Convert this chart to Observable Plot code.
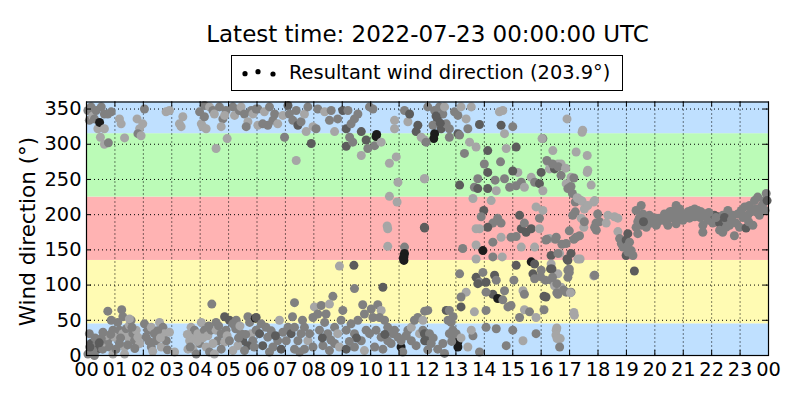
<!DOCTYPE html>
<html><head><meta charset="utf-8">
<script src="https://cdn.jsdelivr.net/npm/d3@7"></script>
<script src="https://cdn.jsdelivr.net/npm/@observablehq/plot@0.6"></script>
<style>
body{margin:0;background:#fff;font-family:"DejaVu Sans",sans-serif;color:#000;}
#wrap{position:relative;width:800px;height:400px;overflow:hidden;}
#title{position:absolute;left:0;width:855px;top:22.5px;text-align:center;font-size:23px;line-height:23px;white-space:nowrap;}
#legend{position:absolute;left:231px;top:55px;width:390px;height:34px;border:1px solid #000;display:flex;align-items:center;font-size:19.4px;white-space:nowrap;}
#legend svg{margin-left:8px;margin-right:11px;}
#legend span{position:relative;top:-1px;}
#chart{position:absolute;left:0;top:95px;}
</style></head>
<body><div id="wrap">
<div id="title"></div>
<div id="legend"></div>
<div id="chart"></div>
</div>
<script>
const titleText = "Latest time: 2022-07-23 00:00:00 UTC";
const legendText = "Resultant wind direction (203.9°)";
const yLabel = "Wind direction (°)";
const hourTicks = [0,1,2,3,4,5,6,7,8,9,10,11,12,13,14,15,16,17,18,19,20,21,22,23,24];
const degTicks = [0,50,100,150,200,250,300,350];
const bandLo = [0,45,135,225,315];
const bandHi = [45,135,225,315,360];
const bandColors = ["#bfe0ff","#fffbb3","#ffb3b3","#bbfbb7","#bfe0ff"];
const shadeColors = ["#a6a6a6","#808080","#5c5c5c","#1c1c1c"];

// [hour, direction (deg), shade]
const night = [
[0.05,348,1],[0.1,334,1],[0.16,353,1],[0.22,340,0],[0.28,336,1],[0.34,348,1],[0.4,322,0],[0.46,331,3],[0.52,353,1],[0.63,343,1],[0.63,322,0],[0.75,343,1],[0.87,346,1],[0.49,310,0],[0.63,300,0],[0.77,302,1],
[1.16,336,0],[1.22,329,0],[1.34,309,0],[1.78,336,0],[1.87,322,0],[1.81,315,1],[1.98,329,0],[2.04,350,1],[1.92,312,0],
[2.8,346,0],[2.92,348,0],[3.27,329,0],[3.33,325,0],[3.39,339,0],[3.98,346,1],[4.04,329,0],[4.09,325,0],
[4.15,355,1],[4.33,353,0],[4.45,348,1],[4.56,294,0],[4.15,339,1],[4.21,322,0],[4.5,343,0],[4.68,353,1],[4.8,336,1],[4.74,325,0],[4.95,308,0],[4.91,348,1],[4.86,341,0],
[5.15,353,1],[5.21,341,0],[5.38,348,1],[5.44,353,0],[5.56,343,1],[5.68,332,0],[5.62,325,1],[5.8,348,1],[5.86,343,0],[5.97,350,1],
[0.1,31,1],[0.16,17,2],[0.34,14,1],[0.4,9,2],[0.22,7,1],[0.57,9,1],[0.63,19,0],[0.75,21,1],[0.75,63,1],[0.87,50,1],[0.93,36,1],[0.99,26,0],[0.69,28,0],[0.52,24,1],[0.05,2,1],[0.28,0,1],[0.81,12,1],[0.93,2,0],
[0.3,25,1],[0.45,18,2],[0.58,33,1],[0.12,12,2],[0.85,30,1],
[1.24,65,1],[1.28,55,1],[1.1,47,1],[1.16,36,1],[1.28,31,0],[1.4,38,1],[1.51,43,0],[1.57,50,1],[1.46,26,0],[1.63,31,1],[1.75,36,0],[1.69,21,1],[1.34,12,0],[1.16,17,1],[1.81,26,0],[1.51,52,0],[1.04,9,1],[1.87,17,0],[1.34,2,0],
[1.2,25,1],[1.45,15,1],[1.6,40,1],[1.7,10,1],
[2.04,45,1],[2.16,36,1],[2.28,40,0],[2.39,31,1],[2.57,47,0],[2.69,40,1],[2.74,31,0],[2.45,21,1],[2.28,12,1],[2.63,12,0],[2.81,21,1],[2.1,26,1],[2.33,6,0],[2.92,33,0],
[2.2,20,1],[2.5,35,1],[2.6,25,0],[2.85,8,1],
[3.1,5,0],[3.68,40,0],[3.74,26,0],[3.8,36,1],[3.92,31,0],[3.63,21,0],[3.98,17,1],[3.74,9,0],[3.86,2,1],[3.57,9,0],
[3.55,30,0],[3.65,12,1],[3.9,20,0],
[4.41,73,1],[4.04,47,0],[4.15,36,1],[4.27,28,0],[4.39,36,1],[4.56,47,1],[4.56,36,0],[4.62,21,1],[4.45,17,0],[4.21,12,0],[4.33,5,1],[4.74,31,1],[4.86,55,2],[4.91,36,1],[4.86,19,0],[4.74,9,1],[4.5,2,0],
[4.1,25,0],[4.3,42,1],[4.65,42,1],[4.95,28,0],
[5.03,50,2],[5.15,45,1],[5.27,50,1],[5.44,31,1],[5.5,21,2],[5.33,14,0],[5.68,55,1],[5.74,47,1],[5.94,53,3],[5.8,31,0],[5.85,21,1],[5.68,14,2],[5.56,7,1],[5.97,36,1],[5.15,7,0],[5.03,21,1],
[5.25,38,1],[5.4,42,0],[5.6,30,1],[5.9,12,1],[5.35,25,1]
];

const morning = [
[6.03,350,1],[6.26,346,0],[6.44,353,1],[6.62,343,1],[6.56,334,1],[6.38,327,1],[6.73,329,0],[6.91,341,0],[6.97,310,1],[6.03,327,0],[6.2,329,1],
[7.09,355,2],[7.14,343,1],[7.26,334,1],[7.38,348,1],[7.44,327,2],[7.55,332,1],[7.67,343,0],[7.73,318,0],[7.79,353,1],[7.97,325,0],[7.91,301,2],[8.08,322,1],[7.38,277,0],
[8.14,350,1],[8.38,346,0],[8.61,348,1],[8.55,334,1],[8.73,318,0],[8.84,336,1],[9.14,322,2],[9.14,297,2],[9.26,310,1],[9.31,329,1],[9.43,336,1],[9.55,343,1],[9.67,318,2],[9.37,303,1],
[9.02,348,2],[9.2,348,1],[9.67,284,0],[9.84,306,2],[9.9,294,1],[9.96,353,1],[10.08,350,1],[10.14,298,1],[10.19,311,3],[10.21,314,3],[10.37,303,0],
[10.66,273,0],[10.9,282,0],[10.84,334,0],[10.84,322,0],[11.19,348,1],[11.31,332,0],[11.37,343,2],[11.6,318,2],[11.66,327,2],[11.78,310,0],[11.9,306,0],[11.9,251,0],[10.96,246,0],
[10.66,226,0],[10.93,218,0],[10.58,184,0],[10.6,180,0],[10.6,155,0],[11.19,154,1],[11.17,140,3],[11.17,135,3],[11.19,145,3],[11.15,138,3],[11.9,181,2],
[8.9,127,0],[9.41,128,2],[9.43,95,1],[10.43,97,2],[7.32,75,1],[8.67,84,1],[11.9,63,1],
[5.97,54,2],[6.15,45,1],[6.32,40,1],[6.09,31,2],[6.38,26,1],[6.2,14,2],[6.56,12,1],[6.73,21,1],[6.79,50,0],[6.91,33,1],[6.85,9,2],[6.44,5,1],[7.03,21,1],[6.5,35,1],[6.65,28,2],
[7.09,40,1],[7.2,31,2],[7.32,40,1],[7.44,21,1],[7.55,31,1],[7.67,40,1],[7.67,9,1],[7.79,21,0],[7.85,31,1],[7.97,54,1],[8.02,69,0],[7.32,9,1],[7.5,5,1],[7.97,12,1],[7.6,50,1],[7.25,55,1],
[8.14,59,1],[8.26,71,1],[8.43,59,1],[8.55,73,0],[8.38,47,1],[8.2,36,1],[8.49,31,1],[8.73,40,1],[8.84,31,0],[8.73,17,1],[8.32,14,1],[8.55,7,1],[8.96,50,1],[8.9,12,0],[9.02,64,1],[8.6,22,1],[8.3,25,2],
[9.14,36,1],[9.31,45,1],[9.43,31,1],[9.55,50,1],[9.72,72,1],[9.78,59,1],[9.67,21,1],[9.84,36,1],[9.96,31,1],[9.43,12,1],[9.14,9,2],[9.78,7,0],[10.02,66,1],[10.08,54,1],[9.5,25,2],[9.25,20,1],
[10.25,72,1],[10.37,64,0],[10.31,54,1],[10.49,50,1],[10.6,40,1],[10.19,36,1],[10.37,26,1],[10.6,21,1],[10.78,31,1],[10.84,36,1],[10.14,12,1],[10.43,9,1],[10.72,17,1],[10.96,26,1],[10.5,30,2],
[11.07,12,3],[11.13,5,1],[11.31,36,1],[11.43,40,0],[11.54,50,1],[11.66,54,1],[11.72,31,0],[11.84,36,1],[11.84,50,0],[11.43,21,1],[11.07,21,1],[11.6,14,1],[11.9,21,2],[11.25,28,1]
];

const afternoon = [
[12.01,353,1],[12.25,348,1],[12.42,353,1],[12.54,343,1],[12.36,334,2],[12.19,327,1],[12.48,322,2],[12.66,329,1],[12.77,322,1],[12.6,353,0],[12.25,315,3],[12.22,308,3],[11.95,303,1],[12.77,310,1],[12.3,340,2],[12.45,330,2],
[12.95,346,1],[13.07,341,1],[13.18,353,0],[13.36,336,0],[13.42,322,1],[13.54,353,0],[13.07,315,2],[13.13,313,1],[13.48,303,0],[13.71,296,0],[13.83,328,2],[13.3,287,1],
[14.12,291,2],[14.0,272,1],[14.57,275,1],[14.59,327,2],[14.71,315,0],[14.12,260,2],[14.77,294,0],[15.0,325,1],[15.12,296,2],[14.53,346,0],[14.65,348,0],[16.06,308,1],[17.46,320,0],[16.91,336,0],[17.44,317,0],[16.03,308,0],
[14.38,249,1],[14.71,251,1],[14.89,239,1],[15.12,241,1],[15.18,260,0],[15.0,262,2],[15.3,246,1],[15.41,239,0],[15.65,253,0],[15.77,246,1],[15.94,244,2],[16.0,260,2],[16.06,234,0],[16.23,275,0],[16.41,291,0],[16.29,265,0],[16.47,265,2],[16.59,272,0],[16.7,272,0],[16.7,256,1],[16.88,244,0],[16.94,237,1],[17.05,253,0],[17.23,289,0],[17.62,284,0],[17.64,263,0],[17.76,242,0],
[13.65,239,1],[13.77,237,2],[14.12,237,2],[14.42,234,0],[13.77,251,1],[13.13,242,2],[11.89,251,0],
[16.2,277,1],[16.4,272,1],[16.6,268,1],[16.86,266,0],[17.15,252,1],[17.62,260,0],[17.05,240,1],[17.1,230,1],[17.2,218,1],[17.27,224,0],[17.44,219,0],[17.85,218,0],[17.2,204,1],[17.5,191,0],[17.5,182,0],
[11.89,182,2],[13.6,223,0],[14.24,220,0],[13.98,206,2],[13.89,197,1],[14.3,188,1],[14.47,195,1],[14.59,188,1],[14.12,182,2],[13.83,180,0],[13.71,180,0],[14.59,168,0],[14.3,161,1],[13.71,157,0],[13.24,152,1],[13.95,149,3],[13.71,137,0],[14.3,140,1],[14.63,140,0],
[14.94,168,1],[15.12,169,1],[15.24,199,2],[15.3,180,2],[15.41,188,1],[15.47,175,2],[15.3,154,0],[15.65,180,2],[15.77,154,0],[15.94,195,1],[15.94,180,0],[15.82,211,0],[16.06,206,0],[16.17,164,1],[16.29,166,0],[16.53,168,1],[16.35,142,2],[16.65,145,0],[16.88,159,1],[17.05,145,2],[17.11,199,1],[17.23,168,1],[17.35,170,1],[17.41,195,0],[17.52,190,1],[17.52,208,0],[17.64,213,0],[17.29,223,0],[17.41,220,0],[17.93,188,1],[17.88,182,1],[16.99,177,1],[17.29,137,0],
[16.2,165,1],[16.5,165,1],[16.73,158,1],[17.15,165,1],[16.59,145,1],[16.91,137,2],[17.37,137,0],
[13.13,116,1],[13.71,111,2],[13.83,104,1],[13.77,102,2],[13.95,118,1],[14.06,104,2],[14.36,114,2],[14.42,107,1],[14.3,87,2],[14.47,81,3],[14.71,92,1],[14.65,79,1],[14.94,71,1],[15.04,107,1],[15.12,128,2],[15.36,92,0],[15.41,87,1],[15.71,116,2],[15.77,109,1],[15.65,133,3],[15.77,130,2],[16.0,121,1],
[14.06,90,1],[13.36,90,0],[13.18,83,1],[13.18,69,2],[13.65,62,0],[14.06,64,1],[14.83,69,1],[15.41,65,0],[15.59,62,1],[16.17,83,2],[16.35,107,1],[16.47,99,0],[16.59,87,1],[16.59,116,0],[16.7,97,0],[16.88,90,1],[16.94,121,1],[16.94,111,1],[17.05,90,1],[16.94,135,2],[17.88,114,0],[16.35,130,0],[15.98,112,1],[15.24,54,1],[15.82,54,0],[16.53,36,0],[17.17,57,0],
[16.33,123,2],[16.38,123,2],[16.99,123,1],[16.99,118,1],[16.15,107,1],[16.4,111,1],[16.55,102,1],[17.85,113,0],[16.79,93,1],[17.03,89,0],[16.1,84,2],[16.55,89,1],[16.1,65,1],[17.15,61,0],[16.55,39,0],[16.52,29,0],[16.67,24,0],
[12.01,64,1],[11.89,31,2],[12.07,31,1],[11.95,21,2],[12.13,17,1],[12.01,8,1],[12.36,9,1],[12.54,17,1],[12.66,64,2],[12.77,64,1],[12.72,50,1],[12.83,47,1],[12.89,36,1],[12.77,31,1],[12.95,24,1],[13.07,19,3],[13.07,12,3],[13.01,31,1],[13.18,25,0],[13.42,12,0],[13.6,28,1],[13.54,36,0],[12.6,3,1],[13.83,5,1],[14.06,40,1],[14.42,38,1],[14.77,14,1],[15.0,36,1],[15.36,21,0],[15.82,31,1],[16.56,24,0],[16.65,12,1],
[12.2,25,1],[12.85,20,1],[12.9,55,1]
];

const evening = [
[17.88,220,0],[17.99,201,1],[18.05,190,1],[17.94,178,1],[18.35,199,0],[18.58,197,0],[18.7,195,0],[18.29,188,0],[17.88,114,1],[19.28,120,2],
[18.7,176,0],[18.76,166,1],[18.82,159,1],[18.88,154,1],[18.99,164,2],[19.05,173,2],[19.11,161,1],[18.99,154,1],[19.17,149,1],[18.99,142,2],[19.23,142,1],[19.05,147,1],
[19.34,206,1],[19.52,213,1],[19.58,201,1],[19.4,190,1],[19.64,197,1],[19.75,190,1],[19.34,182,1],[19.52,185,1],[19.7,182,1],[19.4,173,1],[19.87,188,1],[19.81,199,1],[20.05,185,1],[20.16,195,1],[20.05,195,1],[19.45,195,1],[19.6,190,2],[19.9,196,1],
[20.22,192,1],[20.4,190,1],[20.34,201,1],[20.52,204,1],[20.63,195,1],[20.75,213,1],[20.75,201,1],[20.87,208,1],[20.93,199,1],[20.99,192,1],[20.75,187,1],[20.46,185,1],[20.1,190,1],[20.3,196,1],[20.45,199,1],[20.6,205,1],[20.85,196,1],
[21.16,204,1],[21.28,206,1],[21.4,208,1],[21.51,206,1],[21.63,204,1],[21.69,185,1],[21.69,175,1],[21.81,201,1],[21.87,192,1],[21.4,197,1],[21.22,195,1],[21.98,195,1],[22.1,199,2],[22.04,188,1],
[21.05,200,1],[21.3,198,1],[21.45,201,1],[21.6,196,1],[21.75,198,1],[21.9,203,1],
[22.22,197,2],[22.28,188,2],[22.33,192,2],[22.39,199,1],[22.51,192,1],[22.57,206,1],[22.63,185,1],[22.51,182,1],[22.28,178,1],[22.39,175,1],[22.74,199,1],[22.8,170,1],[22.86,188,1],[22.98,182,1],[22.92,201,1],
[22.15,196,1],[22.45,196,2],[22.7,193,1],
[23.04,206,1],[23.16,211,1],[23.21,181,2],[23.27,199,1],[23.33,213,1],[23.39,204,1],[23.45,185,1],[23.51,220,1],[23.57,208,1],[23.62,225,1],[23.68,199,1],[23.74,211,1],[23.8,215,1],[23.86,220,1],[23.92,230,1],[23.95,220,2],[23.88,206,1],
[23.1,196,1],[23.3,190,1],[23.6,203,1],[23.75,205,1]
];

document.getElementById("title").textContent = titleText;

const leg = d3.select("#legend");
const ls = leg.append("svg").attr("width", 38).attr("height", 12);
ls.selectAll("circle").data([[5,6.7],[18,4.7],[33,7]]).join("circle")
  .attr("cx", d => d[0]).attr("cy", d => d[1]).attr("r", 2.6).attr("fill", "#000");
leg.append("span").text(legendText);

const bands = bandLo.map((lo, i) => ({lo, hi: bandHi[i], color: bandColors[i]}));
const points = [...night, ...morning, ...afternoon, ...evening];

const W = 800, H = 305, mL = 86, mR = 32, mT = 6.5, mB = 45;
const plotW = W - mL - mR, plotH = H - mT - mB;
const tickLen = 5;
const tickFont = 19.4;

const chart = Plot.plot({
  width: W, height: H,
  marginLeft: mL, marginRight: mR, marginTop: mT, marginBottom: mB,
  style: {fontFamily: "DejaVu Sans", fontSize: tickFont + "px", color: "black", background: "white", overflow: "visible"},
  x: {domain: [0, 24]},
  y: {domain: [0, 360]},
  color: {type: "identity"},
  marks: [
    Plot.rect(bands, {x1: () => 0, x2: () => 24, y1: "lo", y2: "hi", fill: "color"}),
    Plot.ruleX(hourTicks.slice(1, -1), {x: d => d, stroke: "black", strokeWidth: 1, strokeDasharray: "1,3"}),
    Plot.ruleY(degTicks.slice(1), {y: d => d, stroke: "black", strokeWidth: 1, strokeDasharray: "1,3"}),
    Plot.dot(points, {x: d => d[0], y: d => d[1], r: 4.5, fill: d => shadeColors[d[2]]}),
    Plot.tickX(hourTicks, {x: d => d, insetTop: plotH - tickLen, stroke: "black"}),
    Plot.tickX(hourTicks, {x: d => d, insetBottom: plotH - tickLen, stroke: "black"}),
    Plot.tickY(degTicks, {y: d => d, insetRight: plotW - tickLen, stroke: "black"}),
    Plot.tickY(degTicks, {y: d => d, insetLeft: plotW - tickLen, stroke: "black"}),
    Plot.axisX(hourTicks, {tickSize: 0, tickPadding: 7, tickFormat: d => String(d % 24).padStart(2, "0"), label: null, fontSize: tickFont}),
    Plot.axisY(degTicks, {tickSize: 0, tickPadding: 5, label: null, fontSize: tickFont}),
    Plot.frame({stroke: "black", strokeWidth: 1.2})
  ]
});

d3.select(chart).append("text")
  .attr("transform", `translate(29,136.5) rotate(-90)`)
  .attr("text-anchor", "middle")
  .attr("dominant-baseline", "middle")
  .attr("font-family", "DejaVu Sans")
  .attr("font-size", 21.5)
  .attr("fill", "black")
  .text(yLabel);

document.getElementById("chart").appendChild(chart);
</script>
</body></html>
